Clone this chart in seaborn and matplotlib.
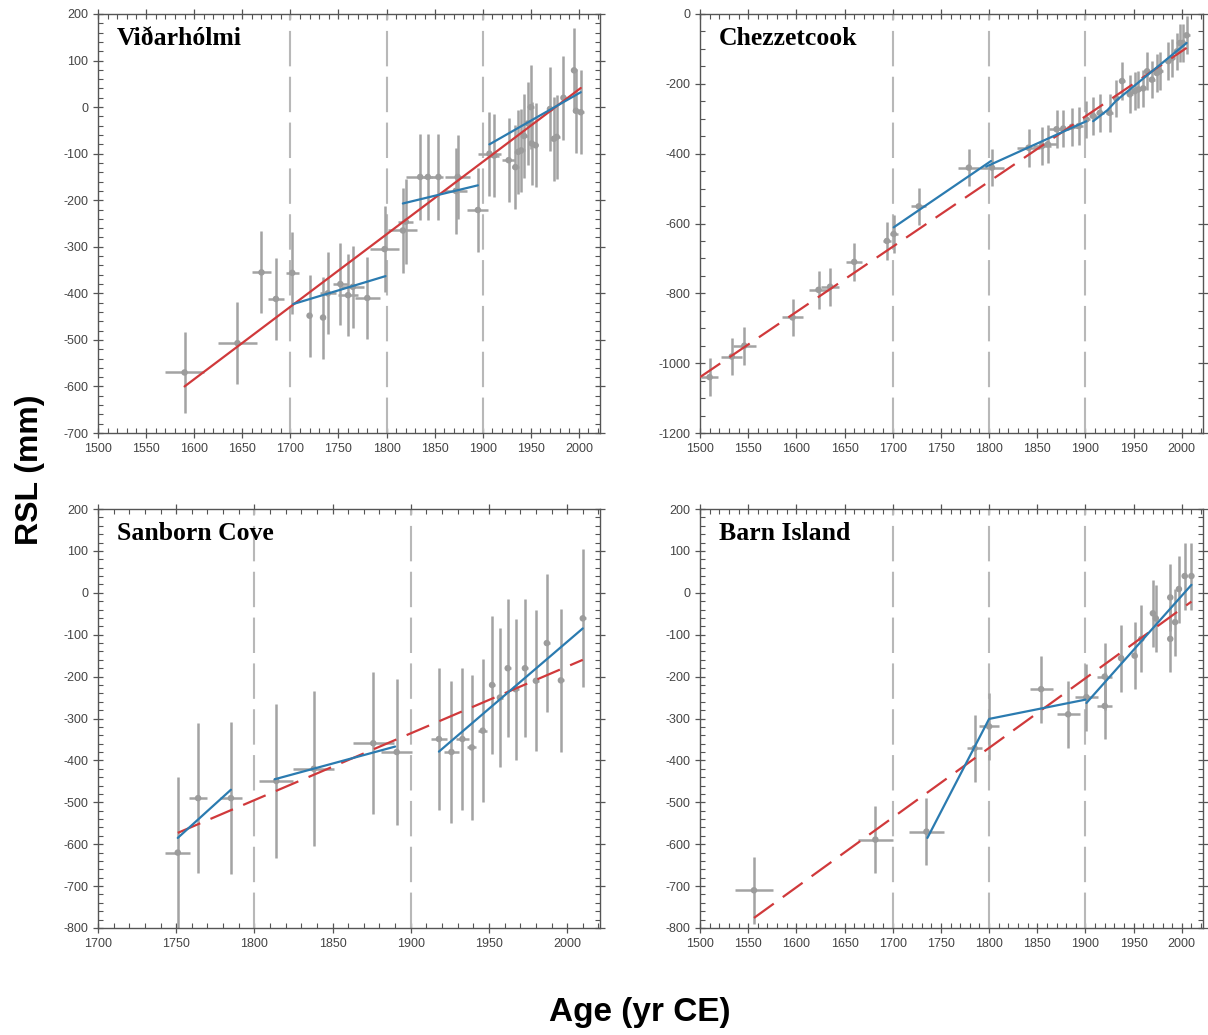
import matplotlib
matplotlib.use("Agg")
import matplotlib.pyplot as plt
from matplotlib.ticker import MultipleLocator
import seaborn as sns
import pandas as pd

# ---- data ----
# Vidarholmi
vid_year = [1590, 1645, 1670, 1685, 1702, 1720, 1734, 1739, 1752, 1760, 1765, 1780, 1798, 1817, 1820,
            1835, 1843, 1854, 1872, 1874, 1895, 1907, 1912, 1927, 1934, 1937, 1940, 1943, 1947, 1950,
            1951, 1955, 1970, 1974, 1977, 1984, 1995, 1997, 2002]
vid_rsl = [-570, -507, -355, -412, -356, -448, -452, -400, -380, -404, -386, -410, -305, -265, -246,
           -150, -150, -150, -180, -150, -221, -100, -104, -114, -129, -96, -93, -62, -35, 0,
           -78, -82, -4, -68, -64, 20, 79, -8, -11]
vid_xerr = [20, 20, 10, 8, 7, 2, 2, 8, 8, 10, 12, 13, 15, 15, 8,
            15, 5, 5, 12, 13, 11, 12, 5, 7, 4, 4, 4, 4, 3, 3,
            3, 3, 3, 3, 3, 3, 3, 3, 3]
vid_yerr = [88] * 12 + [92] * 7 + [90] * 20
vid_red = [(1590, -600), (2002, 41)]
vid_blue = [[(1703, -423), (1799, -363)],
            [(1817, -207), (1895, -168)],
            [(1907, -80), (2002, 32)]]

# Chezzetcook
che_year = [1510, 1533, 1546, 1596, 1623, 1635, 1660, 1694, 1701, 1727, 1779, 1803, 1841, 1855, 1861,
            1870, 1877, 1886, 1893, 1901, 1908, 1915, 1925, 1932, 1938, 1946, 1951, 1955, 1960, 1964,
            1969, 1974, 1977, 1986, 1990, 1995, 1998, 2001, 2005]
che_rsl = [-1040, -981, -950, -869, -790, -781, -710, -650, -630, -551, -440, -440, -383, -378, -373,
           -330, -328, -323, -321, -302, -292, -283, -283, -242, -192, -230, -221, -216, -213, -164,
           -188, -169, -164, -135, -126, -107, -83, -83, -61]
che_xerr = [9, 11, 12, 11, 10, 9, 8, 4, 4, 8, 11, 12, 12, 9, 9,
            8, 6, 5, 4, 4, 4, 4, 4, 3, 3, 3, 3, 3, 3, 3,
            3, 3, 3, 3, 3, 3, 3, 3, 3]
che_yerr = [54] * 39
che_red = [(1500, -1040), (2005, -97)]
che_blue = [[(1701, -611), (1802, -421)],
            [(1797, -437), (1901, -307)],
            [(1908, -307), (1923, -275), (1932, -248), (2005, -83)]]

# Sanborn Cove
san_year = [1751, 1764, 1785, 1814, 1838, 1876, 1891, 1918, 1926, 1933, 1939, 1946, 1952, 1957,
            1962, 1967, 1973, 1980, 1987, 1996, 2010]
san_rsl = [-620, -490, -490, -449, -420, -359, -380, -349, -380, -349, -369, -329, -220, -250,
           -180, -230, -180, -210, -120, -209, -61]
san_xerr = [8, 6, 7, 11, 13, 13, 10, 5, 5, 4, 3, 3, 2, 2, 2, 2, 2, 2, 2, 2, 2]
san_yerr = [180, 179, 182, 184, 185, 169, 174, 170, 170, 170, 174, 170, 165, 165,
            165, 168, 165, 168, 165, 170, 165]
san_red = [(1751, -573), (2010, -160)]
san_blue = [[(1751, -585), (1785, -470)],
            [(1813, -445), (1890, -367)],
            [(1918, -379), (2010, -85)]]

# Barn Island
bar_year = [1556, 1682, 1735, 1785, 1800, 1854, 1882, 1901, 1920, 1920, 1937, 1951, 1958, 1970,
            1973, 1988, 1988, 1993, 1997, 2003, 2010]
bar_rsl = [-710, -589, -570, -371, -319, -230, -290, -249, -270, -200, -156, -150, -110, -49,
           -61, -110, -11, -70, 9, 40, 40]
bar_xerr = [20, 18, 18, 8, 10, 12, 12, 12, 8, 8, 2, 2, 2, 2, 2, 2, 2, 2, 2, 2, 2]
bar_yerr = [80] * 21
bar_red = [(1556, -776), (2010, -21)]
bar_blue = [[(1736, -585), (1800, -301), (1900, -255)],
            [(1901, -263), (2010, 19)]]

panels = [
    ("Viðarhólmi", vid_year, vid_rsl, vid_xerr, vid_yerr, vid_red, vid_blue, "solid",
     (1500, 2022), (-700, 200), 100, 20, [1700, 1800, 1900]),
    ("Chezzetcook", che_year, che_rsl, che_xerr, che_yerr, che_red, che_blue, "dash",
     (1500, 2022), (-1200, 0), 200, 50, [1700, 1800, 1900]),
    ("Sanborn Cove", san_year, san_rsl, san_xerr, san_yerr, san_red, san_blue, "dash",
     (1700, 2021), (-800, 200), 100, 20, [1800, 1900]),
    ("Barn Island", bar_year, bar_rsl, bar_xerr, bar_yerr, bar_red, bar_blue, "dash",
     (1500, 2022), (-800, 200), 100, 20, [1700, 1800, 1900]),
]

sns.set_style("ticks")
plt.rcParams["font.family"] = ["Liberation Sans", "DejaVu Sans"]
plt.rcParams["axes.unicode_minus"] = False

W, H = 1208, 1035
fig = plt.figure(figsize=(W / 100, H / 100), dpi=100)
boxes = [(98, 14, 600, 433), (700, 14, 1203, 433), (98, 509, 600, 928), (700, 509, 1203, 928)]

for (name, yr, rsl, xe, ye, red, blue, style, xl, yl, ymaj, ymin, vlines), (x0, y0, x1, y1) in zip(panels, boxes):
    ax = fig.add_axes([x0 / W, 1 - y1 / H, (x1 - x0) / W, (y1 - y0) / H])
    for v in vlines:
        ax.axvline(v, color="#b8b8b8", lw=1.5, dashes=(17, 5), zorder=1)
    df = pd.DataFrame({"year": yr, "rsl": rsl})
    ax.errorbar(yr, rsl, xerr=xe, yerr=ye, fmt="none", ecolor="#a3a3a3", elinewidth=1.8, zorder=2)
    sns.scatterplot(data=df, x="year", y="rsl", ax=ax, color="#9c9c9c", s=22,
                    edgecolor="none", zorder=3, legend=False)
    rx, ry = zip(*red)
    if style == "solid":
        ax.plot(rx, ry, color="#d0393b", lw=1.6, zorder=4)
    else:
        ax.plot(rx, ry, color="#d0393b", lw=1.6, dashes=(11, 5), zorder=4)
    for seg in blue:
        bx, by = zip(*seg)
        ax.plot(bx, by, color="#2b7bb0", lw=1.6, zorder=5)

    ax.set_xlim(*xl)
    ax.set_ylim(*yl)
    ax.xaxis.set_major_locator(MultipleLocator(50))
    ax.xaxis.set_minor_locator(MultipleLocator(10))
    ax.yaxis.set_major_locator(MultipleLocator(ymaj))
    ax.yaxis.set_minor_locator(MultipleLocator(ymin))
    ax.tick_params(which="major", direction="inout", length=7, width=0.9, color="#555555",
                   labelsize=9, labelcolor="#444444", top=True, right=True)
    ax.tick_params(which="minor", direction="in", length=3.5, width=0.8, color="#555555",
                   top=True, right=True)
    for sp in ax.spines.values():
        sp.set_color("#555555")
        sp.set_linewidth(1.0)
    ax.set_xlabel("")
    ax.set_ylabel("")
    ax.text(0.037, 0.925, name, transform=ax.transAxes, fontsize=18.5, fontweight="bold",
            color="black", family=["Liberation Serif", "DejaVu Serif"], va="baseline", ha="left")

fig.text(30 / W, 1 - 470 / H, "RSL (mm)", rotation=90, fontsize=23, fontweight="bold",
         color="black", ha="center", va="center")
fig.text(640 / W, 1 - 1013 / H, "Age (yr CE)", fontsize=24, fontweight="bold",
         color="black", ha="center", va="center")

fig.savefig("out.png", dpi=100)
